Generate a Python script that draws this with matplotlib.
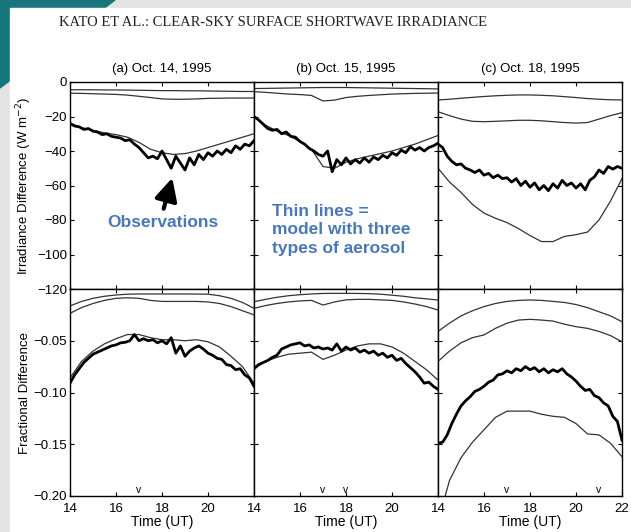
import numpy as np
import matplotlib.pyplot as plt
from matplotlib.patches import Polygon, Rectangle

W, H = 631, 532

# time grids (UT hours)
t_obs = np.arange(14, 22.001, 0.2)
t_mod = np.arange(14, 22.001, 0.5)

# ---- irradiance difference (W m-2) ----
obs_a = [-24, -25.5, -26, -27.5, -27, -28.5, -29, -30.5, -30, -31.5, -32,
         -32.5, -34, -33.5, -36, -38, -41, -44, -43, -44.5, -40, -45, -50, -43,
         -47, -51, -44, -48, -42, -45, -41, -43, -40, -42, -39, -41, -37, -39,
         -36, -37, -34]
mod_a = [-24, -26.5, -28, -29.5, -30.5, -32, -35, -39, -41, -42, -41.5, -40,
         -38, -36, -34, -32, -30]
top1_a = [-4.5, -4.5, -4.5, -4.6, -4.6, -4.7, -4.8, -4.9, -5.0, -5.0, -5.1,
          -5.1, -5.2, -5.3, -5.4, -5.5, -5.5]
top2_a = [-6.5, -6.6, -6.8, -7.0, -7.2, -7.6, -8.3, -9.0, -9.8, -10.0, -10.0,
          -9.8, -9.5, -9.4, -9.3, -9.3, -9.3]

obs_b = [-20, -22, -24.5, -27, -28, -27.5, -30, -29, -31.5, -32, -34.5, -36,
         -38.5, -40, -42, -43, -40, -52, -45, -48, -44, -47.5, -45, -47, -44,
         -46.5, -43.5, -45, -42.5, -44, -41, -42.5, -39.5, -41, -37.5, -39.5,
         -38, -40, -38, -37, -35.5]
mod_b = [-20, -25, -28.5, -31, -34.5, -39, -49, -50, -46.5, -44.5, -43, -41.5,
         -40, -38, -36, -33.5, -31]
top1_b = [-3.8, -3.7, -3.6, -3.5, -3.4, -3.3, -3.2, -3.2, -3.2, -3.3, -3.4,
          -3.5, -3.6, -3.7, -3.8, -3.9, -4.0]
top2_b = [-5.6, -6.0, -6.5, -7.0, -7.3, -7.8, -11.0, -10.5, -9.0, -8.3, -7.8,
          -7.4, -7.0, -6.8, -6.6, -6.5, -6.4]

obs_c = [-36, -38, -43, -46, -48, -47.5, -50, -51, -52.5, -51, -54, -53,
         -55.5, -54, -56, -55.5, -58, -56, -60, -57.5, -61, -58.5, -62.5, -60,
         -63, -59, -61.5, -57, -60, -58.5, -61.5, -59, -62.5, -57, -55, -51,
         -53, -49, -50.5, -49, -50]
mod_c = [-50, -58, -64, -71, -76, -79, -81.5, -85, -89, -92.5, -92.5, -89.5,
         -88.5, -87, -80, -69, -56]
top1_c = [-10.4, -10, -9.4, -8.9, -8.4, -8, -7.7, -7.5, -7.5, -7.7, -8, -8.5,
          -9, -9.6, -10, -10.3, -10.4]
top2_c = [-17.2, -19.5, -21.5, -22.8, -23, -22.8, -22.5, -22.2, -22.2, -22.5,
          -23, -23.5, -23.8, -23.5, -21.5, -19.5, -17.8]

# ---- fractional difference ----
fobs_a = [-0.091, -0.083, -0.077, -0.071, -0.067, -0.063, -0.061, -0.059,
          -0.057, -0.055, -0.054, -0.052, -0.0515, -0.050, -0.044, -0.050,
          -0.048, -0.050, -0.049, -0.052, -0.050, -0.053, -0.047, -0.062,
          -0.055, -0.065, -0.060, -0.057, -0.055, -0.058, -0.062, -0.064,
          -0.067, -0.068, -0.073, -0.074, -0.078, -0.077, -0.083, -0.086, -0.094]
fmod_a = [-0.086, -0.070, -0.060, -0.053, -0.048, -0.044, -0.044, -0.047,
          -0.049, -0.049, -0.050, -0.049, -0.051, -0.056, -0.065, -0.075, -0.091]
ftop1_a = [-0.0164, -0.012, -0.009, -0.007, -0.0058, -0.005, -0.0048, -0.0048,
           -0.0048, -0.0048, -0.0048, -0.0049, -0.005, -0.0065, -0.009, -0.013,
           -0.0187]
ftop2_a = [-0.0235, -0.018, -0.014, -0.011, -0.009, -0.0085, -0.009, -0.011,
           -0.012, -0.012, -0.012, -0.012, -0.0125, -0.014, -0.017, -0.021, -0.025]

fobs_b = [-0.077, -0.073, -0.071, -0.069, -0.066, -0.064, -0.058, -0.056,
          -0.054, -0.053, -0.052, -0.055, -0.054, -0.057, -0.056, -0.058,
          -0.057, -0.059, -0.053, -0.060, -0.056, -0.059, -0.057, -0.061,
          -0.059, -0.062, -0.060, -0.064, -0.062, -0.066, -0.064, -0.069,
          -0.067, -0.072, -0.076, -0.080, -0.085, -0.091, -0.090, -0.094, -0.097]
fmod_b = [-0.077, -0.070, -0.066, -0.063, -0.062, -0.061, -0.068, -0.064,
          -0.059, -0.055, -0.053, -0.053, -0.056, -0.062, -0.070, -0.078, -0.088]
ftop1_b = [-0.0123, -0.010, -0.008, -0.0065, -0.0055, -0.0048, -0.0043,
           -0.0042, -0.0042, -0.0043, -0.0045, -0.005, -0.006, -0.007, -0.0085,
           -0.0095, -0.0107]
ftop2_b = [-0.0187, -0.016, -0.014, -0.0125, -0.0115, -0.011, -0.0155, -0.0125,
           -0.0105, -0.010, -0.010, -0.0105, -0.011, -0.0125, -0.0145, -0.017,
           -0.0203]

fobs_c = [-0.149, -0.148, -0.141, -0.130, -0.121, -0.113, -0.108, -0.104,
          -0.099, -0.097, -0.094, -0.090, -0.088, -0.083, -0.082, -0.079,
          -0.081, -0.077, -0.079, -0.075, -0.078, -0.076, -0.080, -0.077,
          -0.081, -0.078, -0.080, -0.077, -0.082, -0.085, -0.089, -0.094,
          -0.098, -0.097, -0.103, -0.105, -0.110, -0.113, -0.123, -0.128, -0.146]
fmod_c = [-0.225, -0.185, -0.163, -0.148, -0.136, -0.124, -0.118, -0.118,
          -0.118, -0.121, -0.123, -0.124, -0.130, -0.140, -0.141, -0.149, -0.162]
ftop1_c = [-0.041, -0.033, -0.026, -0.021, -0.017, -0.014, -0.012, -0.011,
           -0.0106, -0.011, -0.012, -0.013, -0.015, -0.018, -0.022, -0.026,
           -0.0316]
ftop2_c = [-0.070, -0.060, -0.052, -0.047, -0.0444, -0.038, -0.033, -0.030,
           -0.0293, -0.030, -0.031, -0.034, -0.0364, -0.038, -0.041, -0.045,
           -0.051]

titles = ['(a) Oct. 14, 1995', '(b) Oct. 15, 1995', '(c) Oct. 18, 1995']
marks = [[17], [17, 18], [17, 21]]   # "v" markers along the time axis

top_rows = [(obs_a, mod_a, top1_a, top2_a), (obs_b, mod_b, top1_b, top2_b),
            (obs_c, mod_c, top1_c, top2_c)]
bot_rows = [(fobs_a, fmod_a, ftop1_a, ftop2_a), (fobs_b, fmod_b, ftop1_b, ftop2_b),
            (fobs_c, fmod_c, ftop1_c, ftop2_c)]

plt.rcParams['font.family'] = ['Liberation Sans', 'DejaVu Sans']
fig = plt.figure(figsize=(W / 100, H / 100), dpi=100)
fig.patch.set_facecolor('#e3e3e3')


def px(x, y):
    # pixel position (from top-left) to figure fraction
    return x / W, 1 - y / H


# slide background: teal swoosh and white page
fig.patches.append(Polygon([px(0, 0), px(115, 0), px(0, 88)], closed=True,
                           transform=fig.transFigure, color='#17757c', zorder=0))
fig.patches.append(Rectangle(px(10, 532), (W - 10) / W, (532 - 8) / H,
                             transform=fig.transFigure, color='white', zorder=1))

fig.text(*px(273, 22), 'KATO ET AL.: CLEAR-SKY SURFACE SHORTWAVE IRRADIANCE',
         family='Liberation Serif', fontsize=10.5, ha='center', va='center',
         color='#222')

left_px = [70, 254, 438]
pw, ph = 184, 207


def style(ax):
    ax.set_xlim(14, 22)
    ax.set_xticks([14, 16, 18, 20, 22])
    ax.tick_params(direction='in', length=3, width=0.8, top=True, right=True,
                   labelsize=9.5, pad=2)
    ax.tick_params(axis='x', pad=5)
    for s in ax.spines.values():
        s.set_linewidth(1.0)


for i in range(3):
    x0 = left_px[i]
    axt = fig.add_axes([x0 / W, 1 - 289 / H, pw / W, ph / H])
    axb = fig.add_axes([x0 / W, 1 - 496 / H, pw / W, ph / H])
    for ax in (axt, axb):
        style(ax)
        ax.set_zorder(2)

    obs, mod, t1, t2 = top_rows[i]
    axt.plot(t_mod, t1, color='#333', lw=0.9)
    axt.plot(t_mod, t2, color='#333', lw=0.9)
    axt.plot(t_mod, mod, color='#333', lw=0.9)
    axt.plot(t_obs, obs, color='black', lw=2.0)
    axt.set_ylim(-120, 0)
    axt.set_yticks(range(-120, 1, 20))
    axt.set_xticklabels([])
    axt.set_title(titles[i], fontsize=9.5, pad=7)

    obs, mod, t1, t2 = bot_rows[i]
    axb.plot(t_mod, t1, color='#333', lw=0.9)
    axb.plot(t_mod, t2, color='#333', lw=0.9)
    axb.plot(t_mod, mod, color='#333', lw=0.9)
    axb.plot(t_obs, obs, color='black', lw=2.0)
    axb.set_ylim(-0.2, 0)
    axb.set_yticks([-0.20, -0.15, -0.10, -0.05, 0])
    axb.set_xlabel('Time (UT)', fontsize=10, labelpad=0)
    if i < 2:
        axb.set_xticklabels(['14', '16', '18', '20', ''])
    for m in marks[i]:
        axb.text(m, -0.199, 'v', fontsize=7.5, ha='center', va='bottom')

    if i == 0:
        axt.set_yticklabels(['\u2212120', '\u2212100', '\u221280', '\u221260',
                             '\u221240', '\u221220', '0'])
        axb.set_yticklabels(['\u22120.20', '\u22120.15', '\u22120.10',
                             '\u22120.05', ''])
        axt.set_ylabel('Irradiance Difference (W m$^{-2}$)', fontsize=9.5,
                       labelpad=2)
        axb.set_ylabel('Fractional Difference', fontsize=9.5, labelpad=2)
        axt.annotate('', xy=(18.48, -54), xytext=(18.04, -75),
                     arrowprops=dict(arrowstyle='-|>', color='black', lw=3,
                                     mutation_scale=34))
        axt.text(18.04, -81.5, 'Observations', color='#4a78b5',
                 fontsize=12.5, fontweight='bold', ha='center', va='center')
    else:
        axt.set_yticklabels([])
        axb.set_yticklabels([])
    if i == 1:
        axt.text(14.78, -70.5, 'Thin lines =\nmodel with three\ntypes of aerosol',
                 color='#4a78b5', fontsize=12.5, fontweight='bold',
                 ha='left', va='top', linespacing=1.3)

fig.savefig('out.png', dpi=100, facecolor=fig.get_facecolor())
